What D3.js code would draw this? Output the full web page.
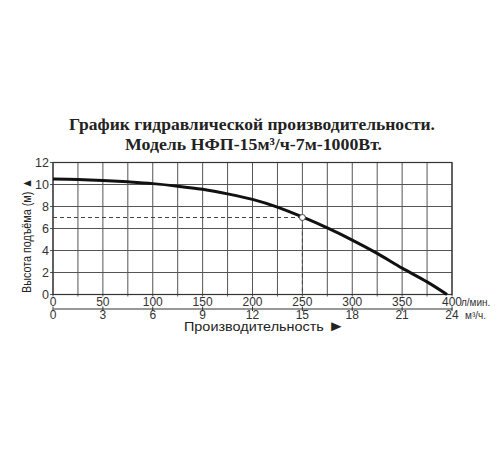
<!DOCTYPE html>
<html>
<head>
<meta charset="utf-8">
<script src="https://cdn.jsdelivr.net/npm/d3@7"></script>
<style>
  body { margin: 0; background: #fff; }
  text { font-family: "Liberation Sans Narrow", "Liberation Sans", Arial, sans-serif; }
</style>
</head>
<body>
<svg id="chart" width="500" height="450"></svg>
<script>
// curve
const flow = [0, 25, 50, 75, 100, 125, 150, 175, 200, 225, 250, 275, 300, 325, 350, 375, 395];
const head = [10.5, 10.46, 10.37, 10.24, 10.08, 9.85, 9.56, 9.15, 8.65, 7.95, 7.05, 6.05, 4.95, 3.74, 2.4, 1.15, 0];

const flowTicks = [0, 50, 100, 150, 200, 250, 300, 350, 400];
const m3Ticks = [0, 3, 6, 9, 12, 15, 18, 21, 24];
const headTicks = [0, 2, 4, 6, 8, 10, 12];

const opFlow = 250;
const opHead = 7;

const titleLines = [
  "График гидравлической производительности.",
  "Модель НФП-15м³/ч-7м-1000Вт."
];

const svg = d3.select("#chart");

const plotLeft = 53, plotRight = 452, plotTop = 162.5, plotBottom = 294.5;

const x = d3.scaleLinear().domain([0, 400]).range([plotLeft, plotRight]);
const x2 = d3.scaleLinear().domain([0, 24]).range([plotLeft, plotRight]);
const y = d3.scaleLinear().domain([0, 12]).range([plotBottom, plotTop]);

// title
svg.append("g")
  .selectAll("text")
  .data(titleLines)
  .enter()
  .append("text")
  .attr("x", (d, i) => i ? 253.5 : 252)
  .attr("y", (d, i) => 129.5 + i * 20.5)
  .attr("text-anchor", "middle")
  .attr("textLength", (d, i) => i ? 257 : 366)
  .attr("lengthAdjust", "spacingAndGlyphs")
  .style("font-family", "'Liberation Serif', 'Times New Roman', serif")
  .style("font-weight", "bold")
  .style("font-size", "17.5px")
  .style("fill", "#222")
  .text(d => d);

// grid
const grid = svg.append("g").attr("stroke", "#555").attr("stroke-width", 1);
grid.selectAll("line.v")
  .data(d3.range(0, 401, 25))
  .enter()
  .append("line")
  .attr("x1", d => x(d)).attr("x2", d => x(d))
  .attr("y1", plotTop).attr("y2", plotBottom + 2);
grid.selectAll("line.h")
  .data(d3.range(0, 13, 2))
  .enter()
  .append("line")
  .attr("x1", plotLeft - 3).attr("x2", plotRight)
  .attr("y1", d => y(d)).attr("y2", d => y(d));

svg.append("rect")
  .attr("x", plotLeft).attr("y", plotTop)
  .attr("width", plotRight - plotLeft).attr("height", plotBottom - plotTop)
  .attr("fill", "none").attr("stroke", "#333").attr("stroke-width", 1.2);

// y tick labels
svg.append("g")
  .selectAll("text")
  .data(headTicks)
  .enter()
  .append("text")
  .attr("x", 49)
  .attr("y", d => y(d) + 4.3)
  .attr("text-anchor", "end")
  .style("font-size", "12.5px")
  .style("fill", "#333")
  .text(d => d);

// flow labels (л/мин)
svg.append("g")
  .selectAll("text")
  .data(flowTicks)
  .enter()
  .append("text")
  .attr("x", d => x(d))
  .attr("y", 305.5)
  .attr("text-anchor", "middle")
  .style("font-size", "12px")
  .style("fill", "#333")
  .text(d => d);

// second axis m3/h
const axis2 = d3.axisTop(x2).tickValues(m3Ticks).tickSize(0).tickFormat("");
svg.append("g")
  .attr("transform", "translate(0,308.5)")
  .call(axis2)
  .call(g => g.select(".domain").attr("stroke", "#333"));

svg.append("g")
  .selectAll("line")
  .data(m3Ticks)
  .enter()
  .append("line")
  .attr("x1", d => x2(d)).attr("x2", d => x2(d))
  .attr("y1", 306.5).attr("y2", 311)
  .attr("stroke", "#333");

svg.append("g")
  .selectAll("text")
  .data(m3Ticks)
  .enter()
  .append("text")
  .attr("x", d => x2(d))
  .attr("y", 318.5)
  .attr("text-anchor", "middle")
  .style("font-size", "12px")
  .style("fill", "#333")
  .text(d => d);

svg.append("text")
  .attr("x", 461).attr("y", 305.5)
  .style("font-size", "10px").style("fill", "#333")
  .text("л/мин.");
svg.append("text")
  .attr("x", 465).attr("y", 318.5)
  .style("font-size", "10px").style("fill", "#333")
  .text("м³/ч.");

// axis titles
const xTitle = svg.append("text")
  .attr("x", 264.5).attr("y", 331)
  .attr("text-anchor", "middle")
  .attr("textLength", 161)
  .attr("lengthAdjust", "spacingAndGlyphs")
  .style("font-family", "'Liberation Sans', Arial, sans-serif")
  .style("font-size", "12.5px")
  .style("fill", "#222");
xTitle.append("tspan").text("Производительность ");
xTitle.append("tspan").style("font-size", "15px").text("►");

svg.append("text")
  .attr("transform", "translate(31,235.5) rotate(-90)")
  .attr("text-anchor", "middle")
  .attr("textLength", 115)
  .attr("lengthAdjust", "spacingAndGlyphs")
  .style("font-size", "13px")
  .style("fill", "#222")
  .text("Высота подъёма (м) ▲");

// operating point guides
const guide = svg.append("g")
  .attr("stroke", "#444").attr("stroke-width", 1)
  .attr("stroke-dasharray", "4,3").attr("fill", "none");
guide.append("line")
  .attr("x1", x(0)).attr("x2", x(opFlow))
  .attr("y1", y(opHead)).attr("y2", y(opHead));
guide.append("line")
  .attr("x1", x(opFlow)).attr("x2", x(opFlow))
  .attr("y1", y(opHead)).attr("y2", y(0));

// curve
const line = d3.line()
  .x((d, i) => x(flow[i]))
  .y(d => y(d))
  .curve(d3.curveCatmullRom);

svg.append("path")
  .datum(head)
  .attr("d", line)
  .attr("fill", "none")
  .attr("stroke", "#111")
  .attr("stroke-width", 3);

svg.append("circle")
  .attr("cx", x(opFlow))
  .attr("cy", y(opHead))
  .attr("r", 3)
  .attr("fill", "#fff")
  .attr("stroke", "#444")
  .attr("stroke-width", 1);
</script>
</body>
</html>
